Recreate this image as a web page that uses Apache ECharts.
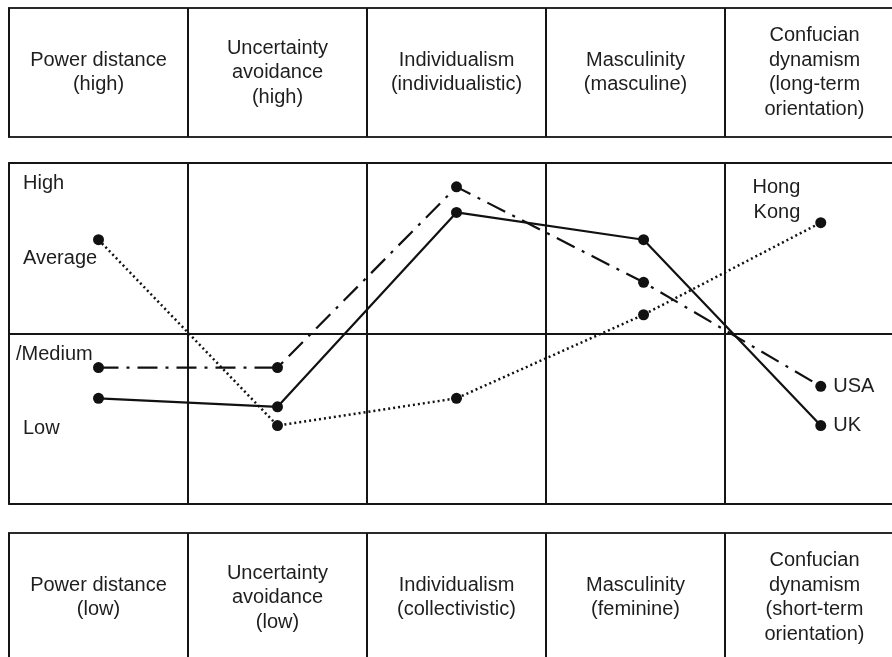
<!DOCTYPE html>
<html><head><meta charset="utf-8">
<script src="https://cdn.jsdelivr.net/npm/echarts@6/dist/echarts.min.js"></script>
<style>html,body{margin:0;padding:0;background:#fff}#c{width:892px;height:657px}</style>
</head><body><div id="c"></div>
<script>
// ---- data ----
const dimensionsHigh = ['Power distance\n(high)', 'Uncertainty\navoidance\n(high)', 'Individualism\n(individualistic)', 'Masculinity\n(masculine)', 'Confucian\ndynamism\n(long-term\norientation)'];
const dimensionsLow = ['Power distance\n(low)', 'Uncertainty\navoidance\n(low)', 'Individualism\n(collectivistic)', 'Masculinity\n(feminine)', 'Confucian\ndynamism\n(short-term\norientation)'];
const columnCenters = [0.5, 1.5, 2.5, 3.5, 4.5];
const pointX = [0.5, 1.5, 2.5, 3.545, 4.535];
const hongKong = [1.55, 0.46, 0.62, 1.11, 1.65];
const usa = [0.80, 0.80, 1.86, 1.30, 0.69];
const uk = [0.62, 0.57, 1.71, 1.55, 0.46];
const countryNames = ['Hong\nKong', 'USA', 'UK'];
const levelLabels = ['High', 'Average', '/Medium', 'Low'];

// ---- styling / layout ----
const FONT = '"Liberation Sans", Arial, Helvetica, sans-serif';
const TXT = '#1e1e1e';
const LINE = '#151515';
const gridBase = { left: 9, width: 895, show: true, borderColor: '#2a2a2a', borderWidth: 2, outerBoundsMode: 'none', containLabel: false };
function xAx(gi) {
  return { type: 'value', gridIndex: gi, min: 0, max: 5, interval: 1,
    axisLine: { show: false }, axisTick: { show: false }, axisLabel: { show: false },
    splitLine: { show: true, lineStyle: { color: LINE, width: 2 } } };
}
function yAx(gi, max, split) {
  return { type: 'value', gridIndex: gi, min: 0, max: max, interval: 1,
    axisLine: { show: false }, axisTick: { show: false }, axisLabel: { show: false },
    splitLine: { show: split, lineStyle: { color: LINE, width: 2 } } };
}
function headerSeries(gi, texts) {
  return { type: 'scatter', xAxisIndex: gi, yAxisIndex: gi, symbolSize: 1,
    itemStyle: { color: 'transparent', opacity: 1 }, silent: true,
    data: columnCenters.map(x => [x, 0.5]),
    label: { show: true, position: 'inside', formatter: p => texts[p.dataIndex], opacity: 1,
      color: TXT, fontFamily: FONT, fontSize: 20, lineHeight: 24.5, align: 'center', verticalAlign: 'middle' } };
}
function countrySeries(vals, dash, width, label) {
  return { type: 'line', xAxisIndex: 1, yAxisIndex: 1, symbol: 'circle', symbolSize: 11,
    itemStyle: { color: '#111' }, lineStyle: { color: '#111', width: width, type: dash },
    z: 5,
    data: pointX.map((x, i) => i === pointX.length - 1 ? { value: [x, vals[i]], label: label } : [x, vals[i]]) };
}
const endLabel = (txt, extra) => Object.assign({ show: true, formatter: txt, color: TXT, fontFamily: FONT, fontSize: 20, lineHeight: 25 }, extra);

const chart = echarts.init(document.getElementById('c'), null, { renderer: 'canvas' });
const levelY = [183, 258, 354, 428];
const levelX = [23, 23, 16, 23];
chart.setOption({
  animation: false,
  backgroundColor: '#fff',
  grid: [
    Object.assign({}, gridBase, { top: 8, height: 129 }),
    Object.assign({}, gridBase, { top: 163, height: 341 }),
    Object.assign({}, gridBase, { top: 533, height: 129 })
  ],
  xAxis: [xAx(0), xAx(1), xAx(2)],
  yAxis: [yAx(0, 1, false), yAx(1, 2, true), yAx(2, 1, false)],
  series: [
    headerSeries(0, dimensionsHigh),
    headerSeries(2, dimensionsLow),
    countrySeries(hongKong, [2, 3], 2.5, endLabel(countryNames[0], { position: 'left', distance: 15, offset: [0, -23] })),
    countrySeries(usa, [20, 8, 3, 8], 2.2, endLabel(countryNames[1], { position: 'right', distance: 7 })),
    countrySeries(uk, 'solid', 2.2, endLabel(countryNames[2], { position: 'right', distance: 7 }))
  ],
  graphic: levelLabels.map((t, i) => ({
    type: 'text', z: 10, silent: true,
    style: { text: t, x: levelX[i], y: levelY[i], fill: TXT, font: '20px ' + FONT, verticalAlign: 'middle' }
  }))
});
</script></body></html>
